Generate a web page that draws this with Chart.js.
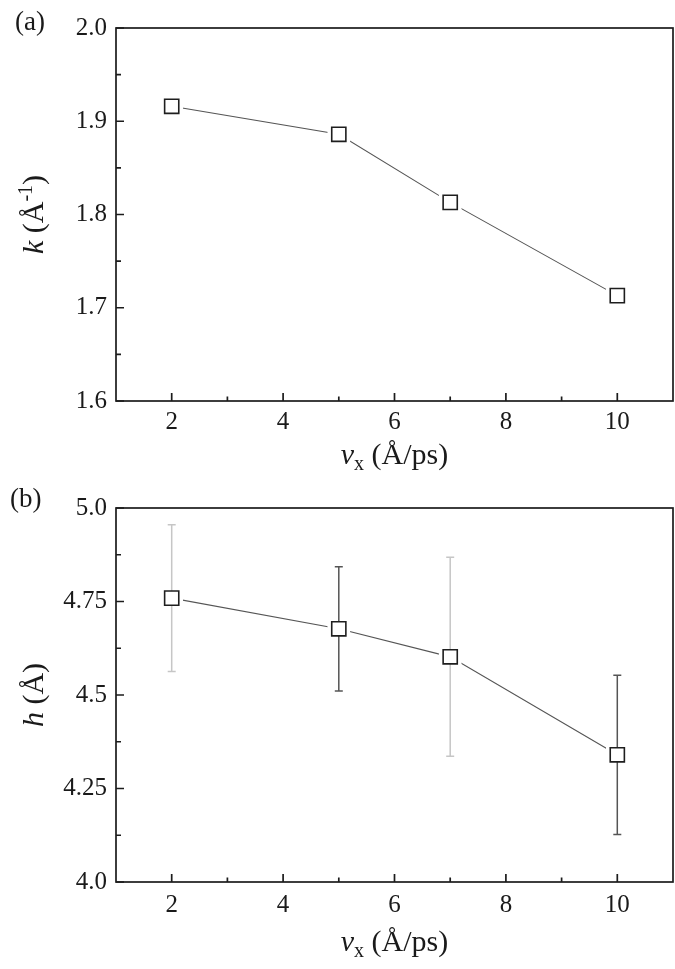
<!DOCTYPE html>
<html>
<head>
<meta charset="utf-8">
<script src="https://cdn.jsdelivr.net/npm/chart.js@4.4.0/dist/chart.umd.min.js"></script>
<style>
  html, body { margin: 0; padding: 0; background: #fff; }
  #wrap { position: relative; width: 675px; height: 969px; }
  .panel { position: absolute; left: 0; width: 675px; }
  #panelA { top: 0; height: 482px; }
  #panelB { top: 482px; height: 487px; }
</style>
</head>
<body>
<div id="wrap">
  <div class="panel" id="panelA"><canvas id="chartA" width="675" height="482"></canvas></div>
  <div class="panel" id="panelB"><canvas id="chartB" width="675" height="487"></canvas></div>
</div>
<script>
// data
const velocities = [2, 5, 7, 10];
const kValues = [1.916, 1.886, 1.813, 1.713];
const hValues = [4.759, 4.677, 4.602, 4.340];
const hErrors = [0.196, 0.166, 0.266, 0.213];

const xTicks = [2, 4, 6, 8, 10];
const kTicks = [1.6, 1.7, 1.8, 1.9, 2.0];
const kTickLabels = ['1.6', '1.7', '1.8', '1.9', '2.0'];
const hTicks = [4.0, 4.25, 4.5, 4.75, 5.0];
const hTickLabels = ['4.0', '4.25', '4.5', '4.75', '5.0'];

const errColors = ['#c6c6c6', '#555555', '#c6c6c6', '#555555'];

const SERIF = '"Liberation Serif", "Times New Roman", serif';
const INK = '#1a1a1a';

// title pieces: kind 'i' = italic, 'n' = normal, 'sub' / 'sup' = small
const xTitle = [['v', 'i'], ['x', 'sub'], [' (Å/ps)', 'n']];
const kTitle = [['k', 'i'], [' (Å', 'n'], ['-1', 'sup'], [')', 'n']];
const hTitle = [['h', 'i'], [' (Å)', 'n']];

function partFont(kind) {
    if (kind === 'i') return 'italic 30px ' + SERIF;
    if (kind === 'sub' || kind === 'sup') return '20px ' + SERIF;
    return '30px ' + SERIF;
}

function richText(ctx, parts, x, y, rotate) {
    ctx.save();
    ctx.translate(x, y);
    if (rotate) ctx.rotate(-Math.PI / 2);
    let total = 0;
    parts.forEach(p => { ctx.font = partFont(p[1]); total += ctx.measureText(p[0]).width; });
    let cx = -total / 2;
    ctx.fillStyle = INK;
    ctx.textBaseline = 'alphabetic';
    ctx.textAlign = 'left';
    parts.forEach(p => {
        ctx.font = partFont(p[1]);
        const dy = p[1] === 'sub' ? 6 : p[1] === 'sup' ? -11 : 0;
        ctx.fillText(p[0], cx, dy);
        cx += ctx.measureText(p[0]).width;
    });
    ctx.restore();
}

function midpoints(arr) {
    const out = [];
    for (let i = 0; i < arr.length - 1; i++) out.push((arr[i] + arr[i + 1]) / 2);
    return out;
}

const framePlugin = {
    id: 'frame',
    afterDatasetDraw(chart, args, o) {
        // error bars go between the white mask and the markers
        if (!o.errors || args.index !== 1) return;
        const eb = o.errors;
        const ctx = chart.ctx;
        const xs = chart.scales.x, ys = chart.scales.y;
        ctx.save();
        ctx.lineWidth = 1.5;
        eb.values.forEach((v, i) => {
            const px = xs.getPixelForValue(eb.x[i]);
            const top = ys.getPixelForValue(v + eb.err[i]);
            const bot = ys.getPixelForValue(v - eb.err[i]);
            ctx.strokeStyle = eb.colors[i];
            ctx.beginPath();
            ctx.moveTo(px, top); ctx.lineTo(px, bot);
            ctx.moveTo(px - 4, top); ctx.lineTo(px + 4, top);
            ctx.moveTo(px - 4, bot); ctx.lineTo(px + 4, bot);
            ctx.stroke();
        });
        ctx.restore();
    },
    afterDraw(chart, args, o) {
        const ctx = chart.ctx;
        const a = chart.chartArea;
        const xs = chart.scales.x, ys = chart.scales.y;
        ctx.save();
        ctx.strokeStyle = '#1c1c1c';
        ctx.lineWidth = 1.7;
        ctx.strokeRect(a.left, a.top, a.right - a.left, a.bottom - a.top);
        ctx.beginPath();
        xTicks.forEach(v => {
            const p = xs.getPixelForValue(v);
            ctx.moveTo(p, a.bottom); ctx.lineTo(p, a.bottom - 8);
        });
        midpoints(xTicks).forEach(v => {
            const p = xs.getPixelForValue(v);
            ctx.moveTo(p, a.bottom); ctx.lineTo(p, a.bottom - 4.5);
        });
        o.yTicks.forEach(v => {
            const p = ys.getPixelForValue(v);
            ctx.moveTo(a.left, p); ctx.lineTo(a.left + 8, p);
        });
        midpoints(o.yTicks).forEach(v => {
            const p = ys.getPixelForValue(v);
            ctx.moveTo(a.left, p); ctx.lineTo(a.left + 5, p);
        });
        ctx.stroke();
        ctx.restore();

        richText(ctx, xTitle, (a.left + a.right) / 2, a.bottom + o.xTitleGap, false);
        richText(ctx, o.yTitle, o.yTitleX, (a.top + a.bottom) / 2, true);

        ctx.save();
        ctx.fillStyle = INK;
        ctx.font = '27px ' + SERIF;
        ctx.textBaseline = 'alphabetic';
        ctx.fillText(o.tag, o.tagX, o.tagY);
        ctx.restore();
    }
};

function makePanel(id, cfg) {
    const pts = velocities.map((v, i) => ({ x: v, y: cfg.values[i] }));
    const tickFont = { family: SERIF, size: 25 };
    return new Chart(document.getElementById(id), {
        type: 'scatter',
        data: {
            datasets: [
                {
                    data: pts,
                    pointStyle: 'rect',
                    pointRadius: 10,
                    pointHoverRadius: 10,
                    pointBorderWidth: 1.6,
                    pointBorderColor: '#1e1e1e',
                    pointBackgroundColor: '#ffffff'
                },
                {
                    data: pts,
                    pointStyle: 'rect',
                    pointRadius: 16,
                    pointHoverRadius: 16,
                    pointBorderWidth: 0,
                    pointBorderColor: '#ffffff',
                    pointBackgroundColor: '#ffffff'
                },
                {
                    data: pts,
                    showLine: true,
                    pointRadius: 0,
                    borderColor: '#555555',
                    borderWidth: 1.1
                }
            ]
        },
        options: {
            responsive: false,
            animation: false,
            events: [],
            layout: { autoPadding: false, padding: { left: 0, right: 2, top: cfg.padTop, bottom: 0 } },
            plugins: {
                legend: { display: false },
                tooltip: { enabled: false },
                frame: {
                    yTicks: cfg.yTicks,
                    yTitle: cfg.yTitle,
                    yTitleX: 43,
                    xTitleGap: cfg.xTitleGap,
                    tag: cfg.tag,
                    tagX: cfg.tagX,
                    tagY: cfg.tagY,
                    errors: cfg.errors
                }
            },
            scales: {
                x: {
                    type: 'linear',
                    min: 1,
                    max: 11,
                    afterBuildTicks: s => { s.ticks = xTicks.map(v => ({ value: v })); },
                    afterFit: s => { s.height = cfg.xHeight; s.paddingLeft = 0; s.paddingRight = 0; },
                    grid: { display: false, drawTicks: false },
                    border: { display: false },
                    ticks: { font: tickFont, color: INK, padding: cfg.xPad, maxRotation: 0, autoSkip: false }
                },
                y: {
                    type: 'linear',
                    min: cfg.yTicks[0],
                    max: cfg.yTicks[cfg.yTicks.length - 1],
                    afterBuildTicks: s => { s.ticks = cfg.yTicks.map(v => ({ value: v })); },
                    afterFit: s => { s.width = 116; s.paddingTop = 0; s.paddingBottom = 0; },
                    grid: { display: false, drawTicks: false },
                    border: { display: false },
                    ticks: {
                        font: tickFont,
                        color: INK,
                        padding: 9,
                        autoSkip: false,
                        callback: v => {
                            const i = cfg.yTicks.findIndex(t => Math.abs(t - v) < 1e-9);
                            return i >= 0 ? cfg.yLabels[i] : '';
                        }
                    }
                }
            }
        },
        plugins: [framePlugin]
    });
}

makePanel('chartA', {
    values: kValues,
    yTicks: kTicks,
    yLabels: kTickLabels,
    padTop: 28,
    xHeight: 81,
    xPad: 6,
    xTitleGap: 63,
    tag: '(a)', tagX: 15, tagY: 30,
    yTitle: kTitle
});

makePanel('chartB', {
    values: hValues,
    yTicks: hTicks,
    yLabels: hTickLabels,
    padTop: 26,
    xHeight: 87,
    xPad: 8,
    xTitleGap: 69,
    tag: '(b)', tagX: 10, tagY: 25,
    yTitle: hTitle,
    errors: { x: velocities, values: hValues, err: hErrors, colors: errColors }
});
</script>
</body>
</html>
